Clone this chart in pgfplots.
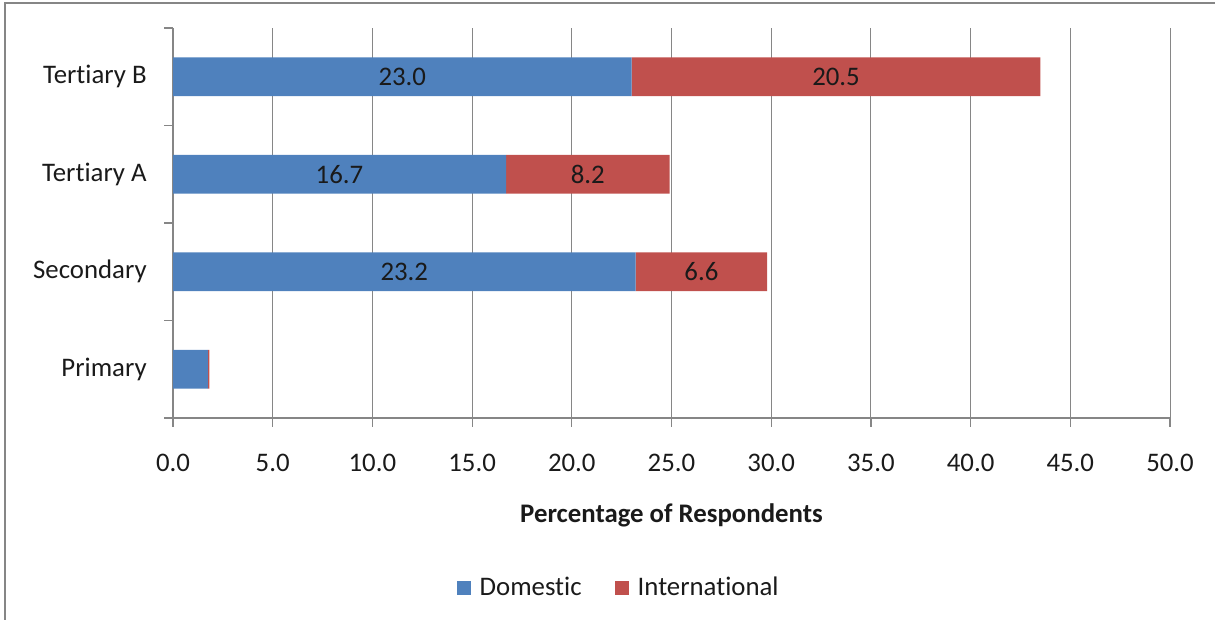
\documentclass[border=0pt]{standalone}
\usepackage{pgfplots}
\pgfplotsset{compat=1.18}
\usepackage{pgfplotstable}
\usepackage{fontspec}
\setmainfont{Carlito}[Ligatures=NoCommon]

\definecolor{domblue}{RGB}{79,129,189}
\definecolor{intred}{RGB}{192,80,77}
\definecolor{axgray}{RGB}{134,134,134}
\definecolor{txt}{RGB}{26,26,26}

% Share of respondents by level of education (percent)
\pgfplotstableread{
pos dom intl domlab intllab
0 1.75 0.08 {} {}
1 23.2 6.6 23.2 6.6
2 16.7 8.2 16.7 8.2
3 23.0 20.5 23.0 20.5
}\edudata

\begin{document}
\fontsize{13.4}{16}\selectfont
\begin{tikzpicture}[x=1pt,y=1pt]
% outer frame (top and left edges)
\draw[axgray, line width=1pt] (2.5,0) -- (2.5,308.5) -- (607.5,308.5);
\begin{axis}[
  at={(86.5pt,101pt)}, anchor=south west,
  scale only axis, width=498.5pt, height=195pt,
  xmin=0, xmax=50, ymin=-0.5, ymax=3.5,
  xbar stacked, bar width=19.4pt,
  axis lines*=left,
  axis line style={axgray, line width=0.8pt},
  every tick/.style={axgray, line width=0.6pt},
  tick align=outside,
  major tick length=4.5pt,
  xtick={0,5,...,50},
  xmajorgrids, grid style={axgray, line width=0.5pt},
  xticklabel style={/pgf/number format/.cd, fixed, fixed zerofill, precision=1, assume math mode=true, /tikz/.cd, text=txt, yshift=-9pt},
  ytick={-0.5,0.5,1.5,2.5,3.5}, yticklabels={},
  extra y ticks={0,1,2,3},
  extra y tick labels={Primary,Secondary,Tertiary A,Tertiary B},
  extra y tick style={major tick length=0pt, ymajorgrids=false,
    yticklabel style={text=txt, xshift=-8.5pt}},
  xlabel={\bfseries Percentage of Respondents},
  xlabel style={at={(axis description cs:0.5,0)}, anchor=center, yshift=-48.5pt, text=txt},
  legend style={at={(axis description cs:0.4505,-0.436)}, anchor=center,
    draw=none, fill=none, legend columns=2, text=txt,
    nodes={inner xsep=4.5pt},
    /tikz/every even column/.append style={column sep=12pt}},
  legend image code/.code={\fill[#1] (0pt,-3.5pt) rectangle (7pt,3.5pt);},
  point meta=explicit symbolic,
  nodes near coords,
  nodes near coords style={text=txt, anchor=center},
]
% stacked segments; labels sit centred in each segment
\addplot[fill=domblue, draw=none] table[x=dom, y=pos, meta=domlab] {\edudata};
\addplot[fill=intred, draw=none] table[x=intl, y=pos, meta=intllab] {\edudata};
\legend{Domestic, International}
\end{axis}
\pgfresetboundingbox
\useasboundingbox (0,0) rectangle (607.5,310);
\end{tikzpicture}
\end{document}
